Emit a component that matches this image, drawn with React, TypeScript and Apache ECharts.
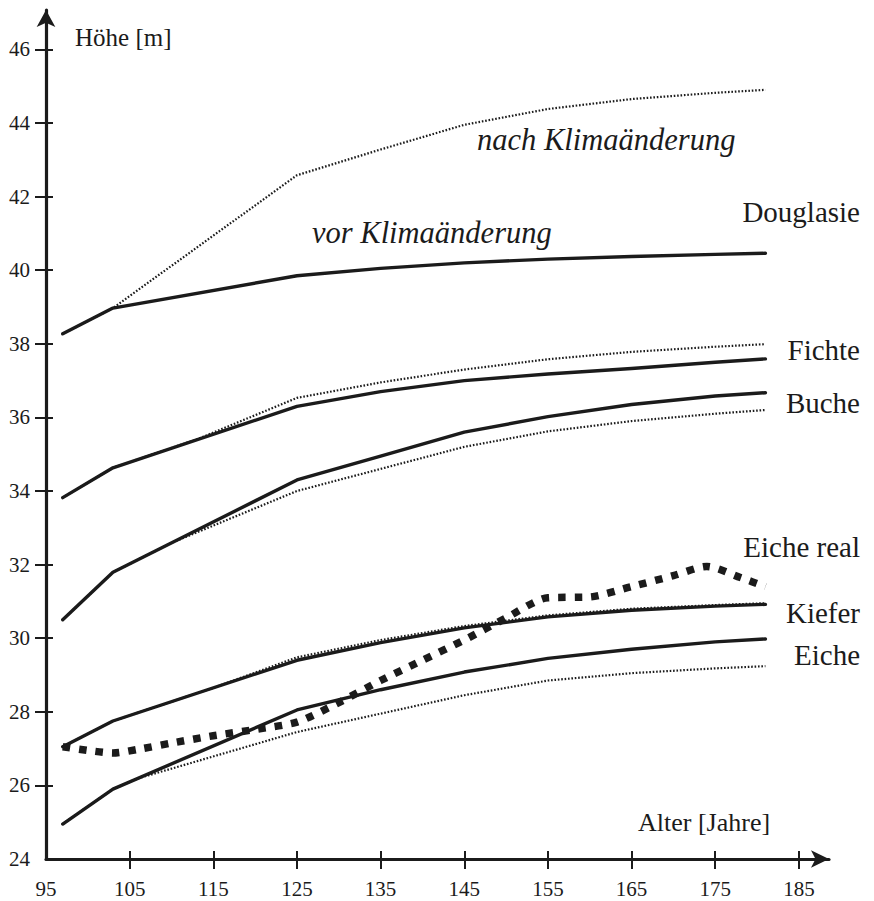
import React, { useEffect, useRef } from "react";
import * as echarts from "echarts";

// ---- Data (age in years -> height in m) ----
const ages = [97, 103, 125, 135, 145, 155, 165, 175, 181];

const douglasieVor = [38.27, 38.97, 39.85, 40.05, 40.2, 40.3, 40.37, 40.43, 40.46];
const douglasieNach = [38.27, 38.97, 42.58, 43.28, 43.95, 44.38, 44.65, 44.82, 44.9];

const ficheVor = [33.82, 34.63, 36.3, 36.7, 37.0, 37.18, 37.33, 37.5, 37.59];
const ficheNachAges = [97, 103, 113, 125, 135, 145, 155, 165, 175, 181];
const ficheNach = [33.82, 34.63, 35.4, 36.53, 36.95, 37.3, 37.58, 37.78, 37.92, 37.99];

const bucheVor = [30.5, 31.79, 34.3, 34.95, 35.6, 36.02, 36.35, 36.58, 36.67];
const bucheNachAges = [97, 103, 110, 125, 135, 145, 155, 165, 175, 181];
const bucheNach = [30.5, 31.79, 32.59, 34.0, 34.6, 35.2, 35.62, 35.9, 36.1, 36.2];

const kieferVor = [27.05, 27.75, 29.4, 29.88, 30.28, 30.58, 30.76, 30.87, 30.92];
const kieferNachAges = [97, 103, 115, 125, 135, 145, 155, 165, 175, 181];
const kieferNach = [27.05, 27.75, 28.65, 29.48, 29.95, 30.33, 30.62, 30.8, 30.9, 30.95];

const eicheVor = [24.95, 25.9, 28.05, 28.6, 29.08, 29.45, 29.7, 29.9, 29.98];
const eicheNachAges = [97, 103, 106, 125, 135, 145, 155, 165, 175, 181];
const eicheNach = [24.95, 25.9, 26.19, 27.45, 27.95, 28.45, 28.85, 29.05, 29.18, 29.24];

const eicheRealAges = [97, 100, 103, 106, 110, 115, 120, 125, 130, 135, 140, 145, 150, 155, 160, 165, 170, 174, 178, 181];
const eicheReal = [27.05, 26.95, 26.88, 26.98, 27.15, 27.35, 27.52, 27.72, 28.25, 28.85, 29.4, 29.95, 30.55, 31.1, 31.12, 31.4, 31.7, 31.95, 31.65, 31.4];

const xTickLabels = [95, 105, 115, 125, 135, 145, 155, 165, 175, 185];
const xTicks = [105, 115, 125, 135, 145, 155, 165, 175, 185];
const yTickLabels = [24, 26, 28, 30, 32, 34, 36, 38, 40, 42, 44, 46];
const yTicks = [26, 28, 30, 32, 34, 36, 38, 40, 42, 44, 46];

const speciesLabels = ["Douglasie", "Fichte", "Buche", "Eiche real", "Kiefer", "Eiche"];

const zip = (xs: number[], ys: number[]) => xs.map((x, i) => [x, ys[i]]);

const INK = "#1b1b1b";
const SERIF = "Liberation Serif";

export default function App() {
  const ref = useRef<HTMLDivElement>(null);

  useEffect(() => {
    if (!ref.current) return;
    const chart = echarts.init(ref.current, null, { renderer: "svg" });

    const solid = (name: string, xs: number[], ys: number[]) => ({
      name,
      type: "line",
      data: zip(xs, ys),
      symbol: "none",
      showSymbol: false,
      lineStyle: { color: INK, width: 3.4, cap: "round", join: "round" },
      z: 3,
    });
    const dotted = (name: string, xs: number[], ys: number[]) => ({
      name,
      type: "line",
      data: zip(xs, ys),
      symbol: "none",
      showSymbol: false,
      lineStyle: { color: INK, width: 2.2, type: [1.6, 1.8], cap: "butt" },
      z: 4,
    });

    const speciesY = [212, 350, 403, 547, 613, 655];

    const option: any = {
      animation: false,
      backgroundColor: "#ffffff",
      textStyle: { fontFamily: SERIF },
      grid: { left: 46, top: 10, width: 783, height: 849, containLabel: false },
      xAxis: [
        {
          type: "value",
          min: 95,
          max: 188.6,
          position: "bottom",
          axisLine: {
            show: true,
            onZero: false,
            symbol: ["none", "arrow"],
            symbolSize: [13, 18],
            lineStyle: { color: INK, width: 3.2 },
          },
          axisTick: {
            show: true,
            length: 10,
            customValues: xTicks,
            lineStyle: { color: INK, width: 2 },
          },
          axisLabel: {
            customValues: xTickLabels,
            fontFamily: SERIF,
            fontSize: 21,
            color: INK,
            margin: 19,
          },
          splitLine: { show: false },
        },
        {
          type: "value",
          min: 95,
          max: 188.6,
          position: "bottom",
          axisLine: { show: false, onZero: false },
          axisTick: {
            show: true,
            inside: true,
            length: 8,
            customValues: xTicks,
            lineStyle: { color: INK, width: 2 },
          },
          axisLabel: { show: false },
          splitLine: { show: false },
        },
      ],
      yAxis: [
        {
          type: "value",
          min: 24,
          max: 47.07,
          position: "left",
          axisLine: {
            show: true,
            onZero: false,
            symbol: ["none", "arrow"],
            symbolSize: [14, 17],
            lineStyle: { color: INK, width: 3.2 },
          },
          axisTick: {
            show: true,
            length: 11,
            customValues: yTicks,
            lineStyle: { color: INK, width: 2 },
          },
          axisLabel: {
            customValues: yTickLabels,
            fontFamily: SERIF,
            fontSize: 21,
            color: INK,
            margin: 16,
          },
          splitLine: { show: false },
        },
        {
          type: "value",
          min: 24,
          max: 47.07,
          position: "left",
          axisLine: { show: false, onZero: false },
          axisTick: {
            show: true,
            inside: true,
            length: 7,
            customValues: yTicks,
            lineStyle: { color: INK, width: 2 },
          },
          axisLabel: { show: false },
          splitLine: { show: false },
        },
      ],
      series: [
        solid("Douglasie vor Klimaänderung", ages, douglasieVor),
        dotted("Douglasie nach Klimaänderung", ages, douglasieNach),
        solid("Fichte vor", ages, ficheVor),
        dotted("Fichte nach", ficheNachAges, ficheNach),
        solid("Buche vor", ages, bucheVor),
        dotted("Buche nach", bucheNachAges, bucheNach),
        solid("Kiefer vor", ages, kieferVor),
        dotted("Kiefer nach", kieferNachAges, kieferNach),
        solid("Eiche vor", ages, eicheVor),
        dotted("Eiche nach", eicheNachAges, eicheNach),
        {
          name: "Eiche real",
          type: "line",
          data: zip(eicheRealAges, eicheReal),
          symbol: "none",
          showSymbol: false,
          smooth: 0.25,
          lineStyle: { color: INK, width: 7.5, type: [7.5, 9], cap: "butt" },
          z: 5,
        },
      ],
      graphic: [
        {
          type: "text",
          x: 75,
          y: 37,
          style: { text: "Höhe [m]", fontFamily: SERIF, fontSize: 25, fill: INK, align: "left", verticalAlign: "middle" },
        },
        {
          type: "text",
          x: 638,
          y: 822,
          style: { text: "Alter [Jahre]", fontFamily: SERIF, fontSize: 26, fill: INK, align: "left", verticalAlign: "middle" },
        },
        {
          type: "text",
          x: 477,
          y: 140,
          style: { text: "nach Klimaänderung", fontFamily: SERIF, fontStyle: "italic", fontSize: 30.5, fill: INK, align: "left", verticalAlign: "middle" },
        },
        {
          type: "text",
          x: 312,
          y: 233,
          style: { text: "vor Klimaänderung", fontFamily: SERIF, fontStyle: "italic", fontSize: 30.5, fill: INK, align: "left", verticalAlign: "middle" },
        },
        ...speciesLabels.map((t, i) => ({
          type: "text",
          x: 860,
          y: speciesY[i],
          style: { text: t, fontFamily: SERIF, fontSize: 29, fill: INK, align: "right", verticalAlign: "middle" },
        })),
      ],
    };

    chart.setOption(option);
    return () => chart.dispose();
  }, []);

  return (
    <div
      ref={ref}
      style={{ position: "fixed", left: 0, top: 0, width: 874, height: 901, background: "#fff" }}
    />
  );
}
